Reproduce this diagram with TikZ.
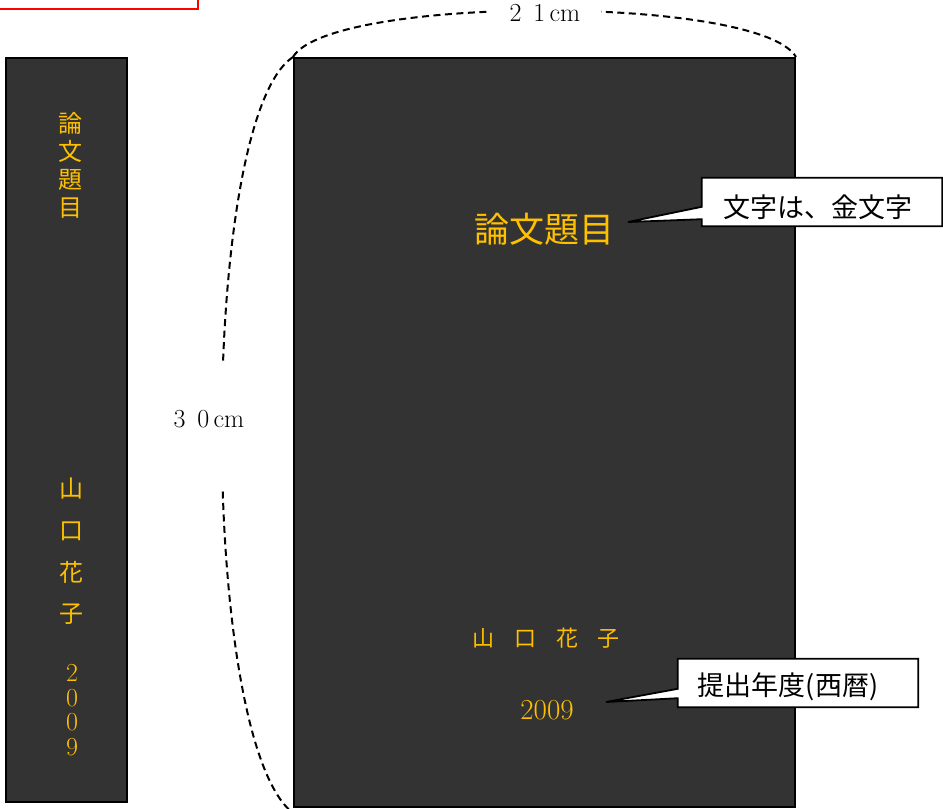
\documentclass[tikz,border=0pt]{standalone}
\usepackage{fontspec}
\newfontfamily\jp{Noto Sans CJK JP}
\usetikzlibrary{calc}
\definecolor{gold}{RGB}{255,192,0}
\definecolor{bookgray}{RGB}{51,51,51}
\begin{document}
\begin{tikzpicture}[x=1pt,y=-1pt,
  book/.style={draw=black, line width=2pt, fill=bookgray, inner sep=0pt},
  goldtxt/.style={text=gold, inner sep=0pt},
  dimline/.style={draw=black, line width=2pt, dash pattern=on 7pt off 4.5pt},
  dimlabel/.style={fill=white, inner sep=0pt, font=\fontsize{26}{26}\selectfont},
  calloutbox/.style={inner sep=0pt, minimum width=240pt, minimum height=48pt},
  callouttext/.style={inner sep=0pt, font=\jp\fontsize{27}{27}\selectfont},
  calloutline/.style={draw=black, line width=1.8pt, fill=white, line join=miter}]
\useasboundingbox (0,0) rectangle (943,809);
% red label box (cut off at the top)
\draw[red, line width=2.5pt] (-10,-40) rectangle (198,9);
% spine and cover
\node[book, minimum width=121pt, minimum height=744pt] (spine) at (66.5,430) {};
\node[book, minimum width=501pt, minimum height=749pt] (cover) at (544.5,432.5) {};
% spine texts
\node[goldtxt, font=\jp\fontsize{24}{28}\selectfont, align=center] (stitle) at (70,165) {論\\文\\題\\目};
\node[goldtxt, font=\jp\fontsize{24}{41.7}\selectfont, align=center] (sname) at (71,551.5) {山\\口\\花\\子};
\node[goldtxt, font=\fontsize{26}{24.6}\selectfont, align=center] (syear) at (72,710) {2\\0\\0\\9};
% cover texts
\node[goldtxt, font=\jp\fontsize{35}{35}\selectfont] (title) at (544,229) {論文題目};
\node[goldtxt, font=\jp\fontsize{22}{22}\selectfont] (name) at (546,638) {山\hspace{20pt}口\hspace{20pt}花\hspace{20pt}子};
\node[goldtxt, font=\fontsize{29}{29}\selectfont] (year) at (547,710) {2009};
% width dimension
\draw[dimline] (cover.north west) .. controls (330,-5) and (760,-5) .. (cover.north east);
\node[dimlabel, inner xsep=21pt, text height=18pt, text depth=4pt] (wlabel) at (545,14) {2\hspace{0.45em}1\,cm};
% height dimension
\coordinate (lb) at ($(cover.south west)+(0,5)$);
\draw[dimline] (cover.north west) .. controls (198,120) and (198,740) .. (lb);
\node[dimlabel, inner xsep=2pt, text height=62.5pt, text depth=62.5pt] (hlabel) at (209,427.5) {3\hspace{0.45em}0\,cm};
% callout 1
\node[calloutbox] (c1) at (822,202) {};
\coordinate (t1) at (628,222);
\draw[calloutline] (c1.north west) -- (c1.north east) -- (c1.south east) -- (c1.south west)
  -- ($(c1.south west)+(0,-7)$) -- (t1) -- ($(c1.north west)+(0,29)$) -- cycle;
\node[callouttext] (c1t) at ($(c1.center)+(-4,5)$) {文字は、金文字};
% callout 2
\node[calloutbox] (c2) at (798,683) {};
\coordinate (t2) at (606,702);
\draw[calloutline] (c2.north west) -- (c2.north east) -- (c2.south east) -- (c2.south west)
  -- ($(c2.south west)+(0,-9)$) -- (t2) -- ($(c2.north west)+(0,30)$) -- cycle;
\node[callouttext] (c2t) at ($(c2.center)+(-10,4)$) {提出年度(西暦)};
\end{tikzpicture}
\end{document}
